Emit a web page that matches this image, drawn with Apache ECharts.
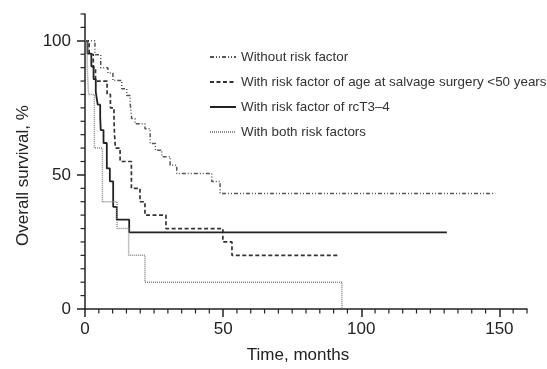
<!DOCTYPE html>
<html>
<head>
<meta charset="utf-8">
<script src="https://cdn.jsdelivr.net/npm/echarts@6/dist/echarts.min.js"></script>
<style>html,body{margin:0;padding:0;background:#fff}#c{width:547px;height:369px}</style>
</head>
<body>
<div id="c"></div>
<script>
// Series names
var seriesNames = [
  'Without risk factor',
  'With risk factor of age at salvage surgery <50 years',
  'With risk factor of rcT3\u20134',
  'With both risk factors'
];
// Kaplan-Meier steps: time (months) at which survival drops to value (%)
var noRiskTime = [0, 3.6, 5.7, 8.3, 10.1, 13.3, 15.1, 16.3, 16.9, 18.1, 21.7, 23.6, 25.5, 27.8, 30.8, 33.2, 45.9, 48.9, 148.5];
var noRiskSurv = [100, 94.8, 90, 88, 85.2, 82.1, 79.6, 77.3, 71, 69.1, 67.2, 61.7, 59.2, 56.8, 53.6, 50.5, 47.5, 43.1, 43.1];
var ageTime = [0, 1.5, 3, 3.8, 8, 9.2, 10.5, 10.7, 11, 12.7, 16.8, 19.9, 21.7, 29.3, 49.9, 53.2, 92.2];
var ageSurv = [100, 95, 90, 85, 80, 75, 70, 65, 60, 55, 45, 40, 35, 30, 25, 20, 20];
var rcTTime = [0, 0.9, 2.3, 3.1, 3.9, 4.6, 5.5, 5.7, 6.7, 7.9, 9.0, 10.2, 11.5, 16.0, 131];
var rcTSurv = [100, 95.2, 90.5, 85.7, 81, 76.2, 71.4, 66.7, 61.9, 52.4, 47.6, 38.1, 33.3, 28.6, 28.6];
var bothTime = [0, 0.8, 1.3, 3.4, 6.3, 11.6, 15.8, 21.7, 93];
var bothSurv = [100, 90, 80, 60, 40, 30, 20, 10, 0];
// Axis ticks
var xMajorTicks = [0, 50, 100, 150];
var yMajorTicks = [0, 50, 100];
var xMinorTicks = [5, 10, 15, 20, 25, 30, 35, 40, 45, 55, 60, 65, 70, 75, 80, 85, 90, 95, 105, 110, 115, 120, 125, 130, 135, 140, 145, 155, 160];
var yMinorTicks = [5, 10, 15, 20, 25, 30, 35, 40, 45, 55, 60, 65, 70, 75, 80, 85, 90, 95, 105, 110];

function pairs(t, s) { return t.map(function (v, i) { return [v, s[i]]; }); }

var chart = echarts.init(document.getElementById('c'));
var font = 'Liberation Sans, Arial, Helvetica, sans-serif';
var axCol = '#222';

function mkSeries(name, t, s, color, width, dash) {
  return {
    name: name, type: 'line', step: 'end', symbol: 'none',
    data: pairs(t, s),
    lineStyle: { color: color, width: width, type: dash },
    itemStyle: { color: color },
    animation: false, silent: true
  };
}

// minor tick marks positioned through the axis scales
function tickSeries(values, isX) {
  return {
    type: 'custom', silent: true, clip: false, animation: false,
    data: values.map(function (v) { return isX ? [v, 0] : [0, v]; }),
    renderItem: function (params, api) {
      var p = api.coord([api.value(0), api.value(1)]);
      var shape = isX ? { x1: p[0], y1: p[1], x2: p[0], y2: p[1] + 4.5 }
                      : { x1: p[0] - 4.5, y1: p[1], x2: p[0], y2: p[1] };
      return { type: 'line', shape: shape, style: { stroke: axCol, lineWidth: 1.2 } };
    }
  };
}

chart.setOption({
  animation: false,
  textStyle: { fontFamily: font },
  grid: { left: 85, right: 20, top: 14, bottom: 60, containLabel: false },
  legend: {
    orient: 'vertical', left: 204, top: 45,
    itemWidth: 26, itemHeight: 14, itemGap: 11,
    itemStyle: { opacity: 0 },
    textStyle: { fontSize: 13.4, color: '#333', fontFamily: font, lineHeight: 14 },
    data: seriesNames.map(function (n) { return { name: n }; })
  },
  xAxis: {
    type: 'value', min: 0, max: 160, interval: 5,
    name: 'Time, months', nameLocation: 'middle', nameGap: 38,
    nameTextStyle: { fontSize: 17, color: axCol, fontFamily: font, padding: [0, 16, 0, 0] },
    axisLine: { show: true, onZero: false, lineStyle: { color: axCol, width: 1.5 } },
    axisTick: { show: true, length: 8, customValues: xMajorTicks, lineStyle: { color: axCol, width: 1.5 } },
    axisLabel: { fontSize: 17, color: axCol, margin: 12, fontFamily: font, customValues: xMajorTicks },
    splitLine: { show: false }
  },
  yAxis: {
    type: 'value', min: 0, max: 110, interval: 5,
    name: 'Overall survival, %', nameLocation: 'middle', nameGap: 52,
    nameTextStyle: { fontSize: 17, color: axCol, fontFamily: font, padding: [0, 28, 0, 0] },
    axisLine: { show: true, onZero: false, lineStyle: { color: axCol, width: 1.5 } },
    axisTick: { show: true, length: 8, customValues: yMajorTicks, lineStyle: { color: axCol, width: 1.5 } },
    axisLabel: { fontSize: 17, color: axCol, margin: 14, fontFamily: font, customValues: yMajorTicks },
    splitLine: { show: false }
  },
  series: [
    mkSeries(seriesNames[0], noRiskTime, noRiskSurv, '#555', 1.5, [4, 2, 1, 2, 1, 2]),
    mkSeries(seriesNames[1], ageTime, ageSurv, '#333', 1.7, [4, 2.5]),
    mkSeries(seriesNames[2], rcTTime, rcTSurv, '#222', 1.8, 'solid'),
    mkSeries(seriesNames[3], bothTime, bothSurv, '#888', 1.5, [1, 1]),
    tickSeries(xMinorTicks, true),
    tickSeries(yMinorTicks, false)
  ]
});
</script>
</body>
</html>
